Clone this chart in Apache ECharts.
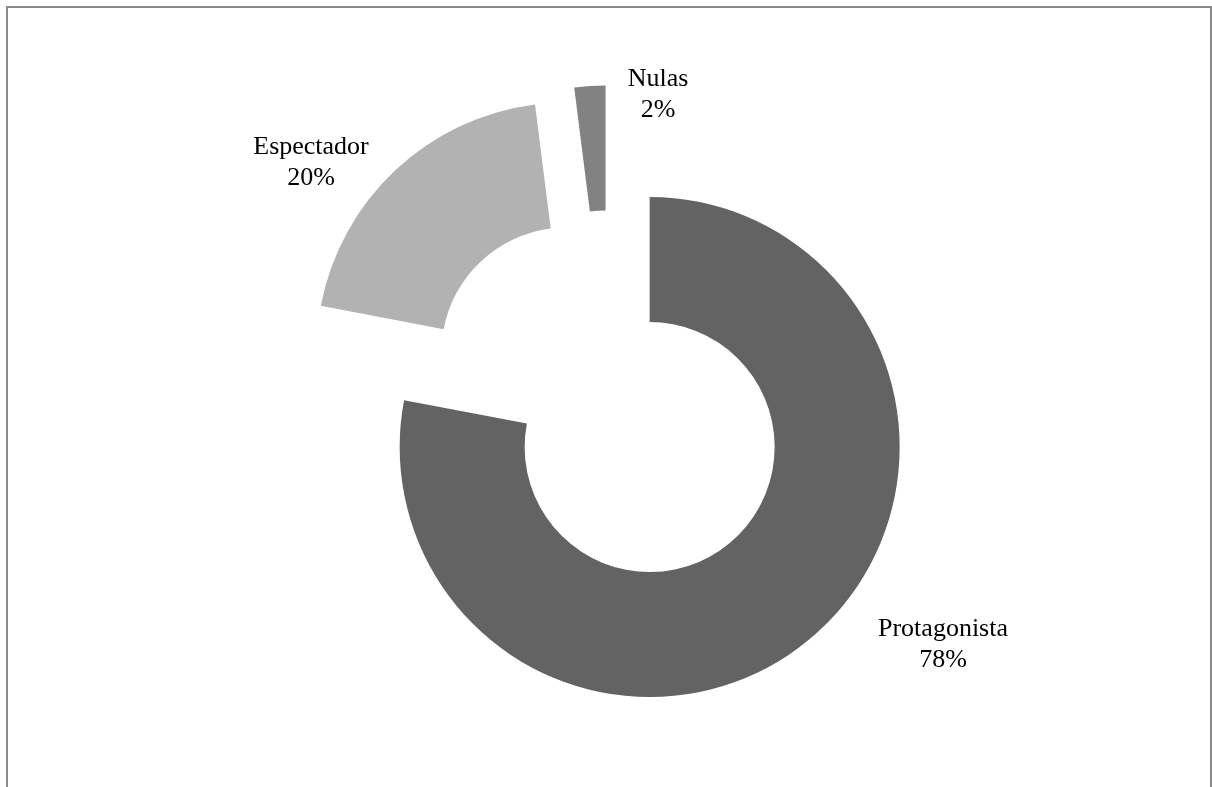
<!DOCTYPE html>
<html>
<head>
<meta charset="utf-8">
<title>Protagonista / Espectador / Nulas</title>
<script src="https://cdn.jsdelivr.net/npm/echarts@6/dist/echarts.min.js"></script>
<style>
  html, body { margin: 0; padding: 0; background: #ffffff; }
  #chart { width: 1212px; height: 787px; }
</style>
</head>
<body>
<div id="chart"></div>
<script>
// Categories and shares (percent)
const categories = ['Protagonista', 'Espectador', 'Nulas'];
const shares = [78, 20, 2];

// Slice fills
const sliceColors = ['#636363', '#b2b2b2', '#828282'];

// Label anchor points (centre of each two-line label)
const labelAnchors = [[943, 645], [311, 163], [658, 95]];

const chart = echarts.init(document.getElementById('chart'), null, { renderer: 'canvas' });

const ringCenter = [609.5, 398.5];
const ringRadius = [125, 250];

// Exploded ring: every slice is pulled out along its bisector
const ringData = categories.map((name, i) => ({
  name: name,
  value: shares[i],
  selected: true,
  itemStyle: { color: sliceColors[i] }
}));

// Same values again, unfilled, only to carry the centred two-line labels
const labelData = categories.map((name, i) => ({
  name: name,
  value: shares[i],
  itemStyle: { color: 'rgba(0,0,0,0)' }
}));

chart.setOption({
  animation: false,
  backgroundColor: '#ffffff',
  graphic: [{
    type: 'rect',
    shape: { x: 7, y: 7, width: 1204, height: 820 },
    style: { fill: 'none', stroke: '#8a8a8a', lineWidth: 2 },
    silent: true
  }],
  series: [{
    type: 'pie',
    center: ringCenter,
    radius: ringRadius,
    startAngle: 90,
    clockwise: true,
    selectedMode: 'multiple',
    selectedOffset: 63,
    data: ringData,
    label: { show: false },
    labelLine: { show: false },
    emphasis: { disabled: true }
  }, {
    type: 'pie',
    center: ringCenter,
    radius: ringRadius,
    startAngle: 90,
    clockwise: true,
    silent: true,
    selectedMode: false,
    avoidLabelOverlap: false,
    data: labelData,
    label: {
      show: true,
      position: 'outside',
      formatter: p => p.name + '\n' + p.value + '%',
      fontFamily: '"Liberation Serif", "Times New Roman", serif',
      fontSize: 26,
      lineHeight: 31,
      color: '#000000'
    },
    labelLine: { show: false },
    labelLayout: function (params) {
      const a = labelAnchors[params.dataIndex];
      return { x: a[0], y: a[1], align: 'center', verticalAlign: 'middle' };
    },
    emphasis: { disabled: true }
  }]
});
</script>
</body>
</html>
